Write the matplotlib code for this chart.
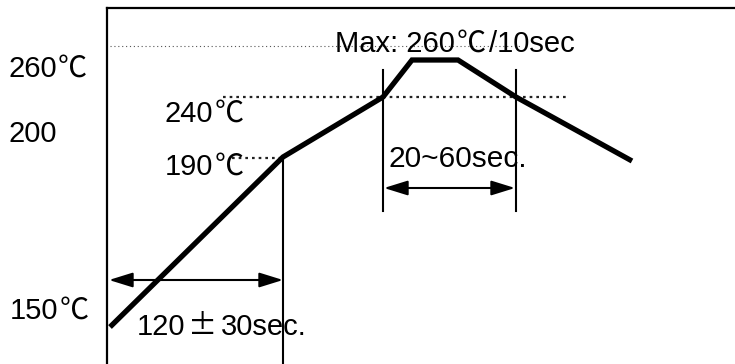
import matplotlib
matplotlib.use("Agg")
import matplotlib.pyplot as plt

LATIN = ['Liberation Sans', 'DejaVu Sans']
CJK = ['Noto Sans CJK SC', 'DejaVu Sans']
plt.rcParams['font.family'] = LATIN

# Schematic reflow profile (arbitrary schematic units: x = time, y = temperature height)
profile_t = [3, 176, 276, 305, 351, 409, 525]
profile_y = [37, 207, 267, 304, 304, 267, 203]

# reference dotted levels
level_max_y = 318
level_240_y = 267
level_190_y = 206

# vertical marker lines
preheat_end_t = 176
liq_start_t = 276
liq_end_t = 409

# arrows
preheat_arrow_y = 84
liq_arrow_y = 176

# left-side temperature labels (value text, unit)
ytick_values = ["260", "200", "150"]
ytick_units = ["℃", "", "℃"]

W, H = 735, 364
fig = plt.figure(figsize=(W / 100, H / 100), dpi=100)
ax = fig.add_axes([107 / W, 0, 1 - 107 / W, 356 / H])
ax.set_xlim(0, 628)
ax.set_ylim(0, 356)
for s in ['right', 'bottom']:
    ax.spines[s].set_visible(False)
for s in ['left', 'top']:
    ax.spines[s].set_linewidth(1.6)
ax.set_xticks([])
ax.set_yticks([])

# dotted levels
ax.plot([3, 415], [level_max_y, level_max_y], color='#555555', lw=0.8,
        linestyle=(0, (1, 2.5)))
ax.plot([116, 462], [level_240_y, level_240_y], color='#222222', lw=1.6,
        linestyle=(0, (1.2, 1.8)))
ax.plot([125, 178], [level_190_y, level_190_y], color='#222222', lw=1.6,
        linestyle=(0, (1.2, 1.8)))

# verticals
ax.plot([preheat_end_t, preheat_end_t], [0, level_190_y], color='black', lw=1.5)
ax.plot([liq_start_t, liq_start_t], [153, 294], color='black', lw=1.5)
ax.plot([liq_end_t, liq_end_t], [153, 294], color='black', lw=1.5)

# profile
ax.plot(profile_t, profile_y, color='black', lw=3.8, solid_capstyle='butt',
        solid_joinstyle='miter')

# arrows
arrowprops = dict(arrowstyle='<|-|>,head_length=1.45,head_width=0.45', color='black',
                  lw=1.5, shrinkA=0, shrinkB=0)
ax.annotate('', xy=(2, preheat_arrow_y), xytext=(preheat_end_t, preheat_arrow_y),
            arrowprops=arrowprops)
ax.annotate('', xy=(liq_start_t + 1, liq_arrow_y), xytext=(liq_end_t - 1, liq_arrow_y),
            arrowprops=arrowprops)

FS = 21
renderer = fig.canvas.get_renderer()


def chain(x, base, pieces, fs=FS):
    """Draw text pieces one after another on a shared baseline.
    pieces: list of (string, family, gap_before_in_pixels)."""
    for s, fam, gap in pieces:
        x = x + gap
        t = ax.text(x, base, s, fontsize=fs, va='baseline', ha='left', family=fam,
                    clip_on=False)
        bb = t.get_window_extent(renderer)
        x = ax.transData.inverted().transform((bb.x1, 0))[0]


# labels inside the frame
chain(228, 312, [("Max: 260", LATIN, 0), ("℃", CJK, 2), ("/10sec", LATIN, 3)])
chain(58, 242, [("240", LATIN, 0), ("℃", CJK, 1)])
chain(58, 189, [("190", LATIN, 0), ("℃", CJK, 1)])
chain(281, 197, [("20~60sec.", LATIN, 0)], fs=21.5)
chain(30, 29, [("120", LATIN, 0), ("±", CJK, 3), ("30sec.", LATIN, 3)])

# left labels
left_bases = [287, 222, 45]
left_x = [-99, -99, -97]
for v, u, b, xx in zip(ytick_values, ytick_units, left_bases, left_x):
    pieces = [(v, LATIN, 0)]
    if u:
        pieces.append((u, CJK, 1))
    chain(xx, b, pieces)

fig.savefig("out.png", dpi=100)
